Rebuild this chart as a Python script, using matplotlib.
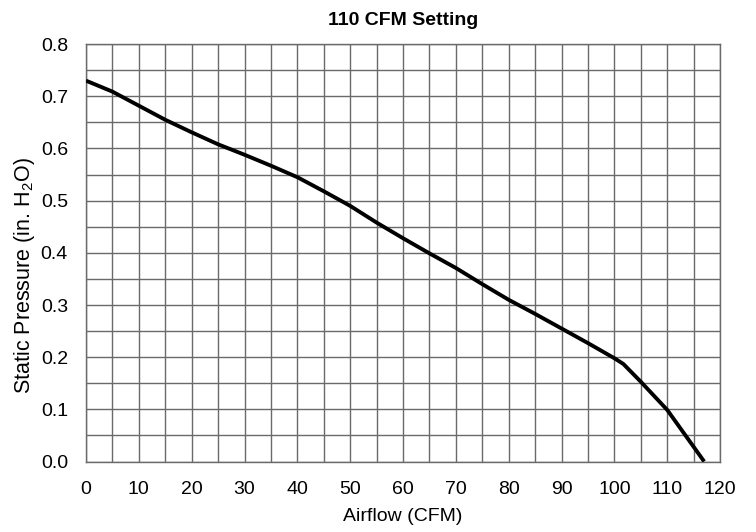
import matplotlib
matplotlib.use("Agg")
import matplotlib.pyplot as plt
import numpy as np

airflow = [0, 5, 10, 15, 20, 25, 30, 35, 40, 45, 50, 55, 60, 65, 70, 75, 80,
           85, 90, 95, 100, 101.7, 105, 110, 117]
pressure = [0.73, 0.709, 0.682, 0.655, 0.631, 0.608, 0.588, 0.567, 0.545, 0.518,
            0.490, 0.458, 0.428, 0.399, 0.371, 0.340, 0.310, 0.283, 0.255, 0.227,
            0.198, 0.187, 0.153, 0.099, 0.0]
x_ticks = list(range(0, 121, 10))
y_ticks = [0.0, 0.1, 0.2, 0.3, 0.4, 0.5, 0.6, 0.7, 0.8]

plt.rcParams['font.family'] = ['Liberation Sans', 'DejaVu Sans']
plt.rcParams['mathtext.default'] = 'regular'

fig = plt.figure(figsize=(7.56, 5.32), dpi=100)
ax = fig.add_axes([0.1138, 0.1325, 0.8386, 0.7845])

ax.set_xlim(0, 120)
ax.set_ylim(0, 0.8)
ax.set_xticks(x_ticks)
ax.set_yticks(y_ticks)
ax.set_xticklabels([str(t) for t in x_ticks])
ax.set_yticklabels([f"{t:.1f}" for t in y_ticks])
ax.set_xticks(np.arange(0, 121, 5), minor=True)
ax.set_yticks(np.arange(0, 0.801, 0.05), minor=True)
ax.tick_params(which='both', length=0)
ax.tick_params(axis='x', pad=14, labelsize=14)
ax.tick_params(axis='y', pad=13, labelsize=14)
ax.grid(which='both', color='#6a6a6a', linewidth=1.0)
ax.set_axisbelow(True)
for s in ax.spines.values():
    s.set_color('#6a6a6a')
    s.set_linewidth(1.0)

ax.plot(airflow, pressure, color='black', linewidth=2.8, solid_capstyle='butt', zorder=3)

ax.set_title('110 CFM Setting', fontsize=14, fontweight='bold', pad=13.5)
ax.set_xlabel('Airflow (CFM)', fontsize=14, labelpad=7)
ax.set_ylabel('Static Pressure (in. H$_2$O)', fontsize=15.5)
ax.yaxis.set_label_coords(-0.077, 0.445)

fig.savefig('out.png', dpi=100)
